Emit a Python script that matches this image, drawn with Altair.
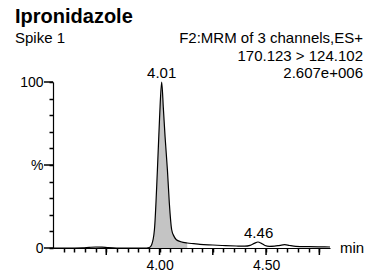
import altair as alt
import pandas as pd

# ---- data ----
times = [3.50, 3.55, 3.60, 3.64, 3.67, 3.70, 3.73, 3.76, 3.80, 3.85, 3.90, 3.94,
         3.952, 3.963, 3.976, 3.990, 4.000, 4.010, 4.018, 4.026, 4.037, 4.046,
         4.057, 4.068, 4.079, 4.10, 4.13, 4.16, 4.19, 4.25, 4.31, 4.36, 4.40,
         4.425, 4.445, 4.462, 4.478, 4.495, 4.515, 4.54, 4.565, 4.587, 4.61,
         4.64, 4.70, 4.75, 4.80]
intensity = [0, 0, 0, 0.1, 0.4, 0.6, 0.5, 0.2, 0, 0, 0, 0,
             0.3, 2, 11, 47, 78, 100, 84, 67, 47, 27,
             11, 7, 5, 3.8, 3, 2.6, 2.2, 1.8, 1.4, 1.2, 1.1,
             1.6, 2.8, 3.6, 2.8, 1.5, 1.0, 1.1, 1.6, 2.0, 1.5,
             1.0, 0.8, 0.7, 0.6]

peak_times = [4.01, 4.465]
peak_heights = [100, 3.6]
peak_labels = ["4.01", "4.46"]

x_tick_values = [round(3.55 + 0.05 * i, 2) for i in range(25)]
x_major_ticks = [3.75, 4.00, 4.25, 4.50, 4.75]
y_tick_values = [0, 10, 20, 30, 40, 50, 60, 70, 80, 90, 100]
y_major_ticks = [0, 50, 100]

title_text = "Ipronidazole"
sample_text = "Spike 1"
info_lines = ["F2:MRM of 3 channels,ES+", "170.123 > 124.102", "2.607e+006"]
x_unit = "min"

FONT = "Liberation Sans"

df = pd.DataFrame({"t": times, "y": intensity})
peaks = pd.DataFrame({"t": peak_times, "y": peak_heights, "label": peak_labels})
xmaj = pd.DataFrame({"t": x_major_ticks})
ymaj = pd.DataFrame({"y": y_major_ticks})
one = pd.DataFrame({"a": [0]})

xscale = alt.Scale(domain=[3.5, 4.8], nice=False, zero=False)
yscale = alt.Scale(domain=[0, 100], nice=False, zero=False)

xaxis = alt.Axis(
    values=x_tick_values,
    labelExpr="abs(datum.value - 4) < 0.001 ? '4.00' : (abs(datum.value - 4.5) < 0.001 ? '4.50' : '')",
    tickSize=4, tickWidth=1.5, tickColor="black",
    domainColor="black", domainWidth=1.2,
    labelOverlap=False, labelFlush=False, labelBound=False,
    labelFont=FONT, labelColor="black",
    labelFontSize=14, labelPadding=6, grid=False, title=None,
)
yaxis = alt.Axis(
    values=y_tick_values,
    labelExpr="datum.value == 100 ? '100' : (datum.value == 50 ? '%' : (datum.value == 0 ? '0' : ''))",
    tickSize=4, tickWidth=1.5, tickColor="black",
    domainColor="black", domainWidth=1.2,
    labelOverlap=False, labelFlush=False, labelBound=False,
    labelFont=FONT, labelColor="black",
    labelFontSize=14, labelPadding=6, grid=False, title=None,
)

X = alt.X("t:Q", scale=xscale, axis=xaxis)
Y = alt.Y("y:Q", scale=yscale, axis=yaxis)

base = alt.Chart(df)

area = base.transform_filter("datum.t <= 4.14").mark_area(
    color="#c4c4c4", interpolate="monotone"
).encode(x=X, y=Y)

line = base.mark_line(color="black", strokeWidth=1.2, interpolate="monotone").encode(x=X, y=Y)

xmajor = alt.Chart(xmaj).mark_rule(color="black", strokeWidth=1.5).encode(
    x=X, y=alt.value(166), y2=alt.value(173)
)
ymajor = alt.Chart(ymaj).mark_rule(color="black", strokeWidth=1.5).encode(
    y=Y, x=alt.value(0), x2=alt.value(-9)
)

peak_text = alt.Chart(peaks).mark_text(
    font=FONT, fontSize=15, dy=-4, baseline="alphabetic", align="center", color="black"
).encode(x=X, y=Y, text="label:N")

def label(txt, x, y, size=15, bold=False, align="left"):
    return alt.Chart(one).mark_text(
        font=FONT, fontSize=size, fontWeight="bold" if bold else "normal",
        align=align, baseline="alphabetic", color="black",
    ).encode(x=alt.value(x), y=alt.value(y), text=alt.value(txt))

texts = [
    label(title_text, -38, -59, size=20, bold=True),
    label(sample_text, -38, -39),
    label(info_lines[0], 310, -39, align="right"),
    label(info_lines[1], 310, -21.5, align="right"),
    label(info_lines[2], 310, -4, align="right"),
    label(x_unit, 287, 171),
]

chart = alt.layer(area, line, xmajor, ymajor, peak_text, *texts).properties(
    width=277, height=166,
    autosize=alt.AutoSizeParams(type="none"),
    padding={"left": 45, "top": 74, "right": 34, "bottom": 24},
).configure_view(stroke=None)

chart.save("out.html", embed_options={"renderer": "svg", "actions": False})
